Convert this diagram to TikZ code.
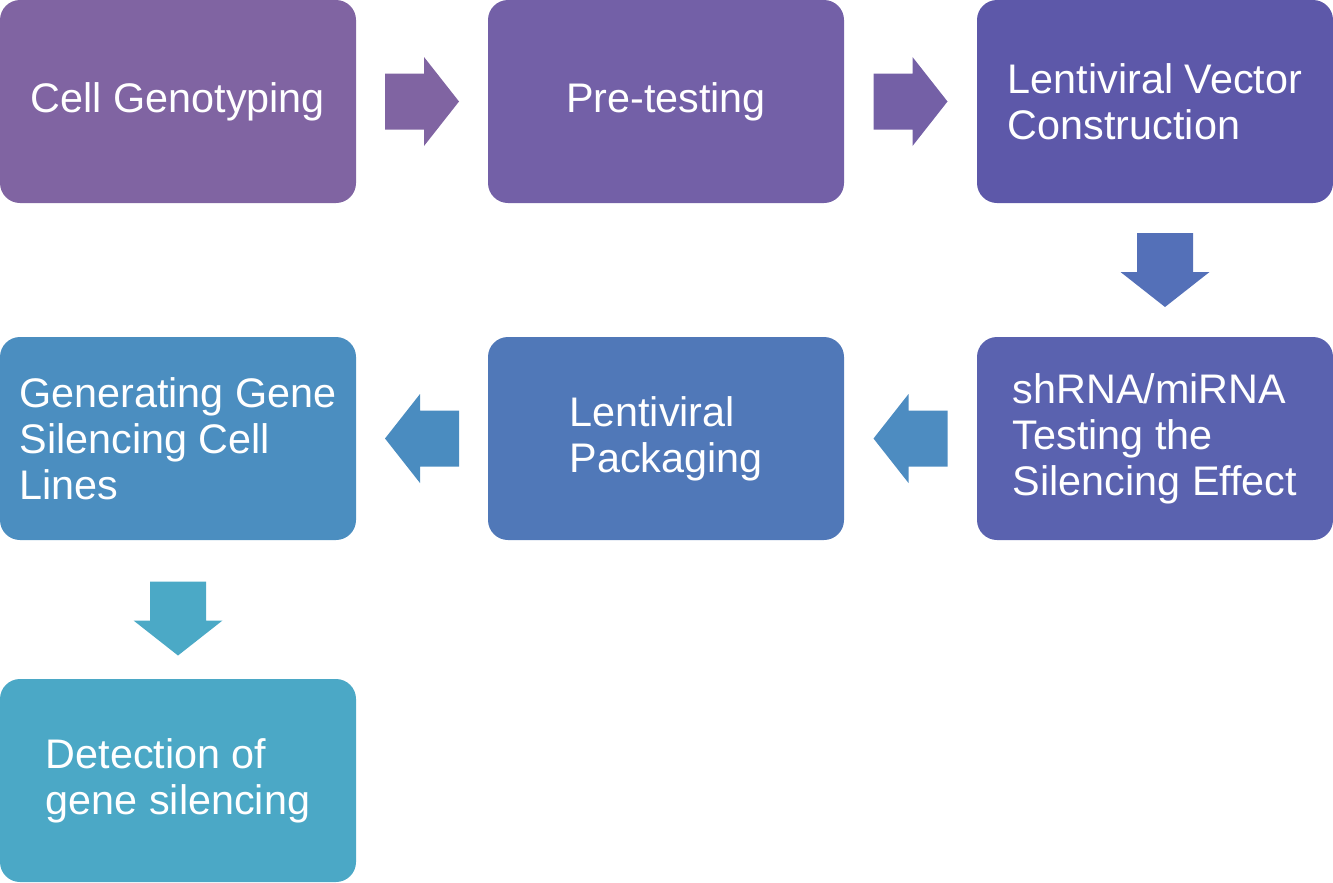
\documentclass[tikz,border=0pt]{standalone}
\usepackage{fontspec}
\setmainfont{Liberation Sans}
\usetikzlibrary{calc}

\definecolor{boxA}{HTML}{8064A2}
\definecolor{boxB}{HTML}{7360A7}
\definecolor{boxC}{HTML}{5D58A9}
\definecolor{boxD}{HTML}{5A62AF}
\definecolor{boxE}{HTML}{5078B8}
\definecolor{boxF}{HTML}{4B8EC0}
\definecolor{boxG}{HTML}{4BA8C6}
\definecolor{arrA}{HTML}{8064A2}
\definecolor{arrB}{HTML}{7460A6}
\definecolor{arrC}{HTML}{5470B8}
\definecolor{arrD}{HTML}{4D8CC1}
\definecolor{arrE}{HTML}{4A8CC0}
\definecolor{arrF}{HTML}{4BA9C6}

\tikzset{
  box/.style={rounded corners=15pt, minimum width=267pt, minimum height=152.25pt,
    inner sep=0pt, text=white, align=left, font=\fontsize{31}{34.5}\selectfont},
  blockarr/.pic={\fill[#1] (-37,-28) -- (2,-28) -- (2,-44.5) -- (37,0) -- (2,44.5)
    -- (2,28) -- (-37,28) -- cycle;}
}

\begin{document}
\begin{tikzpicture}[x=0.75pt, y=-0.75pt]
\useasboundingbox (0,0) rectangle (1333,882);
\node[box, fill=boxA] at (178,101.5) (geno) {Cell Genotyping};
\node[box, fill=boxB] at (666,101.5) (pretest) {Pre-testing};
\node[box, fill=boxC] at (1155,101.5) (vector) {Lentiviral Vector\\Construction};
\node[box, fill=boxD] at (1155,438.5) (shrna) {shRNA/miRNA\\Testing the\\Silencing Effect};
\node[box, fill=boxE] at (666,438.5) (pack) {Lentiviral\\Packaging};
\node[box, fill=boxF] at (178,438.5) (lines) {Generating Gene\\Silencing Cell\\Lines};
\node[box, fill=boxG] at (178,780.5) (detect) {Detection of\\gene silencing};
% block arrows between the steps
\pic at ($(geno.east)!.5!(pretest.west)$) {blockarr=arrA};
\pic at ($(pretest.east)!.5!(vector.west)$) {blockarr=arrB};
\pic[rotate=-90] at ($(vector.south)!.5!(shrna.north)+(10,0)$) {blockarr=arrC};
\pic[rotate=180] at ($(shrna.west)!.5!(pack.east)$) {blockarr=arrD};
\pic[rotate=180] at ($(pack.west)!.5!(lines.east)$) {blockarr=arrE};
\pic[rotate=-90] at ($(lines.south)!.5!(detect.north)+(0,9)$) {blockarr=arrF};
\end{tikzpicture}
\end{document}
